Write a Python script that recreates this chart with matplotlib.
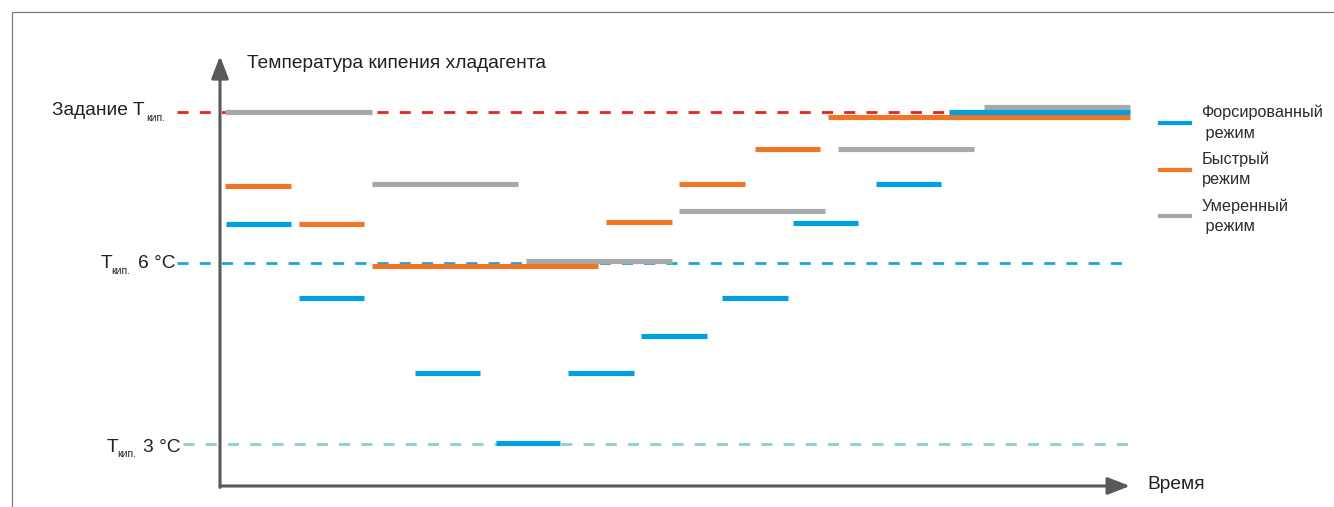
import matplotlib
matplotlib.use('Agg')
import matplotlib.pyplot as plt
from matplotlib.lines import Line2D

plt.rcParams['font.family'] = ['Liberation Sans', 'DejaVu Sans']

# time in arbitrary units, temperature in deg C
forced_start = [0.6, 7.9, 19.5, 27.6, 34.8, 42.1, 50.2, 57.3, 65.6, 72.9]
forced_end = [7.1, 14.4, 26.0, 34.0, 41.4, 48.7, 56.8, 63.8, 72.1, 91.0]
forced_temp = [6.65, 5.43, 4.18, 3.02, 4.18, 4.80, 5.43, 6.66, 7.31, 8.50]

fast_start = [0.5, 7.9, 15.2, 38.6, 45.9, 53.5, 60.8]
fast_end = [7.1, 14.4, 37.8, 45.2, 52.5, 60.0, 91.0]
fast_temp = [7.28, 6.65, 5.955, 6.68, 7.31, 7.90, 8.42]

moderate_start = [0.5, 15.2, 30.6, 45.9, 61.8, 76.4]
moderate_end = [15.2, 29.8, 45.2, 60.5, 75.4, 91.0]
moderate_temp = [8.50, 7.31, 6.04, 6.87, 7.90, 8.59]

setpoint = 8.5
t6 = 6.0
t3 = 3.0
t_end = 91.0

mode_labels = ['Форсированный\n режим', 'Быстрый\nрежим', 'Умеренный\n режим']

blue = '#009fe3'
orange = '#ee7624'
gray = '#a8a8ab'
axis_col = '#58595b'
txt = '#231f20'

fig = plt.figure(figsize=(13.34, 5.07), dpi=100)
ax = fig.add_axes([0, 0, 1, 1])
ax.set_xlim(-22, 111.4)
ax.set_ylim(1.965, 10.359)
ax.set_axis_off()

# outer frame
fig.add_artist(Line2D([11.5/1334, 11.5/1334, 1.0], [0, 1 - 12.3/507, 1 - 12.3/507],
                      transform=fig.transFigure, color='#7d7d7d', lw=0.9))

# reference lines
ax.plot([-4.3, t_end], [setpoint, setpoint], color='#e52421', lw=2.0,
        dashes=(4, 4), zorder=1)
ax.plot([-4.3, 90.4], [t6, t6], color='#1ea5e0', lw=2.0, dashes=(4, 4), zorder=1)
ax.plot([-3.7, t_end], [t3, t3], color='#8ccfd0', lw=2.0, dashes=(4, 4), zorder=1)

# mode segments
ax.hlines(moderate_temp, moderate_start, moderate_end, colors=gray, lw=3.7,
          capstyle='butt', zorder=3)
ax.hlines(fast_temp, fast_start, fast_end, colors=orange, lw=3.7,
          capstyle='butt', zorder=3)
ax.hlines(forced_temp, forced_start, forced_end, colors=blue, lw=3.7,
          capstyle='butt', zorder=4)

# axes arrows
arr = dict(arrowstyle='-|>,head_length=0.9,head_width=0.35', lw=2.2,
           color=axis_col, mutation_scale=15, shrinkA=0, shrinkB=0)
ax.annotate('', xy=(0, 9.43), xytext=(0, 2.29), arrowprops=arr, zorder=5)
ax.annotate('', xy=(t_end, 2.313), xytext=(0, 2.313), arrowprops=arr, zorder=5)

fs = 13.8
sub = 7.5
ax.text(2.67, 9.228, 'Температура кипения хладагента', fontsize=fs, color=txt,
        ha='left', va='baseline')
ax.text(92.7, 2.258, 'Время', fontsize=fs, color=txt, ha='left', va='baseline')

ax.text(-7.5, 8.455, 'Задание T', fontsize=fs, color=txt, ha='right', va='baseline')
ax.text(-7.4, 8.361, 'кип.', fontsize=sub, color=txt, ha='left', va='baseline')

ax.text(-11.9, 5.927, 'T', fontsize=fs, color=txt, ha='left', va='baseline')
ax.text(-10.9, 5.823, 'кип.', fontsize=sub, color=txt, ha='left', va='baseline')
ax.text(-8.2, 5.927, '6 °C', fontsize=fs, color=txt, ha='left', va='baseline')

ax.text(-11.3, 2.88, 'T', fontsize=fs, color=txt, ha='left', va='baseline')
ax.text(-10.3, 2.787, 'кип.', fontsize=sub, color=txt, ha='left', va='baseline')
ax.text(-7.7, 2.88, '3 °C', fontsize=fs, color=txt, ha='left', va='baseline')

handles = [Line2D([], [], color=c, lw=3.0) for c in (blue, orange, gray)]
leg = ax.legend(handles, mode_labels, loc='upper left',
                bbox_to_anchor=(1160/1334, 1 - 105/507), bbox_transform=fig.transFigure,
                frameon=False, fontsize=11.7, handlelength=1.85, handletextpad=0.7,
                labelspacing=0.68, borderpad=0, borderaxespad=0)
for t in leg.get_texts():
    t.set_color('#2b2b2b')
    t.set_linespacing(1.42)

fig.savefig('out.png', dpi=100)
